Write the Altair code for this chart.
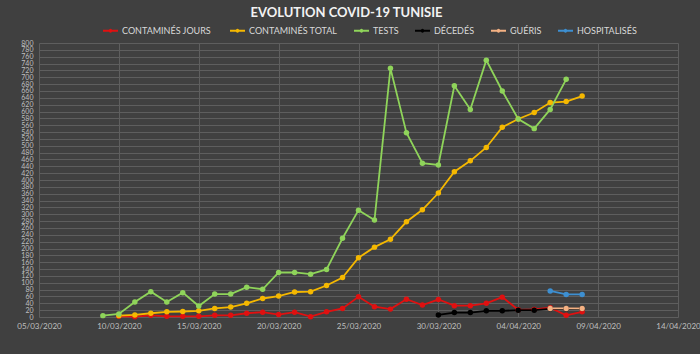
import altair as alt
import pandas as pd

FONT = "Lato"

dates = [
    "2020-03-09", "2020-03-10", "2020-03-11", "2020-03-12", "2020-03-13", "2020-03-14",
    "2020-03-15", "2020-03-16", "2020-03-17", "2020-03-18", "2020-03-19", "2020-03-20",
    "2020-03-21", "2020-03-22", "2020-03-23", "2020-03-24", "2020-03-25", "2020-03-26",
    "2020-03-27", "2020-03-28", "2020-03-29", "2020-03-30", "2020-03-31", "2020-04-01",
    "2020-04-02", "2020-04-03", "2020-04-04", "2020-04-05", "2020-04-06", "2020-04-07",
    "2020-04-08",
]

contamines_jours = [None, 2, 1, 5, 2, 2, 2, 5, 5, 11, 14, 7, 14, 1, 15, 25, 59, 30, 23, 52,
                    35, 51, 33, 33, 40, 58, 21, 22, 27, 5, 15]
contamines_total = [None, 4, 6, 11, 15, 16, 18, 25, 29, 40, 54, 61, 73, 74, 92, 115, 173, 204,
                    227, 278, 313, 362, 424, 456, 495, 554, 578, 597, 626, 629, 645]
tests = [4, 9, 44, 74, 44, 71, 32, 67, 67, 87, 81, 130, 130, 125, 139, 230, 312, 283, 726, 538,
         449, 444, 675, 606, 750, 660, 578, 550, 606, 694, None]
deces = [None] * 21 + [6, 13, 13, 18, 18, 20, 20, 24, 24, 25]
gueris = [None] * 28 + [25, 25, 25]
hospitalises = [None] * 28 + [76, 66, 66]

series_names = ["CONTAMINÉS  JOURS", "CONTAMINÉS TOTAL", "TESTS", "DÉCEDÉS", "GUÉRIS", "HOSPITALISÉS"]
series_values = [contamines_jours, contamines_total, tests, deces, gueris, hospitalises]
series_colors = ["#e01010", "#f5b800", "#8fd45a", "#000000", "#f4b183", "#3d8fd1"]

x_ticks = ["2020-03-05", "2020-03-10", "2020-03-15", "2020-03-20", "2020-03-25",
           "2020-03-30", "2020-04-04", "2020-04-09", "2020-04-14"]
y_ticks = list(range(0, 801, 20))

rows = []
for name, vals in zip(series_names, series_values):
    for d, v in zip(dates, vals):
        if v is not None:
            rows.append({"date": d, "value": v, "series": name})
df = pd.DataFrame(rows)


def dt(s):
    y, m, d = (int(p) for p in s.split("-"))
    return alt.DateTime(year=y, month=m, date=d, utc=True)


SYM = "M-1,0L1,0M-0.12,0A0.12,0.12,0,1,1,0.12,0A0.12,0.12,0,1,1,-0.12,0Z"

chart = alt.Chart(df).mark_line(
    strokeWidth=1.8,
    point=alt.OverlayMarkDef(filled=True, size=30, opacity=1),
).encode(
    x=alt.X(
        "date:T",
        scale=alt.Scale(type="utc", domain=[dt(x_ticks[0]), dt(x_ticks[-1])]),
        axis=alt.Axis(
            values=[dt(t) for t in x_ticks], format="%d/%m/%Y", title=None,
            grid=True, gridColor="#5e5e5e", gridWidth=1, domain=False, ticks=False,
            labelColor="#bfbfbf", labelFont=FONT, labelFontSize=8, labelPadding=5,
            labelFlush=False, labelOverlap=False,
        ),
    ),
    y=alt.Y(
        "value:Q",
        scale=alt.Scale(domain=[0, 800], nice=False),
        axis=alt.Axis(
            values=y_ticks, title=None, grid=True, gridColor="#5e5e5e", gridWidth=1,
            domain=False, ticks=False, labelColor="#bfbfbf", labelFont=FONT,
            labelFontSize=7, labelPadding=6, labelOverlap=False,
        ),
    ),
    color=alt.Color(
        "series:N",
        scale=alt.Scale(domain=series_names, range=series_colors),
        legend=alt.Legend(
            orient="none", legendX=63, legendY=-21, direction="horizontal", title=None,
            symbolType=SYM, symbolSize=225, symbolStrokeWidth=2,
            labelColor="#d9d9d9", labelFont=FONT, labelFontSize=9, labelOffset=3,
            columnPadding=12, padding=0,
        ),
    ),
    order=alt.Order("date:T"),
).properties(
    width=639,
    height=274,
    title=alt.TitleParams(
        "EVOLUTION COVID-19 TUNISIE", font=FONT, fontSize=13, fontWeight="bold",
        color="#f2f2f2", anchor="middle", frame="group", dx=-12, offset=2,
    ),
    autosize=alt.AutoSizeParams(type="none"),
    padding={"left": 39, "top": 43, "right": 22, "bottom": 37},
    background="#404040",
).configure_view(stroke=None)

chart.save("out.html", embed_options={"renderer": "svg", "actions": False})
